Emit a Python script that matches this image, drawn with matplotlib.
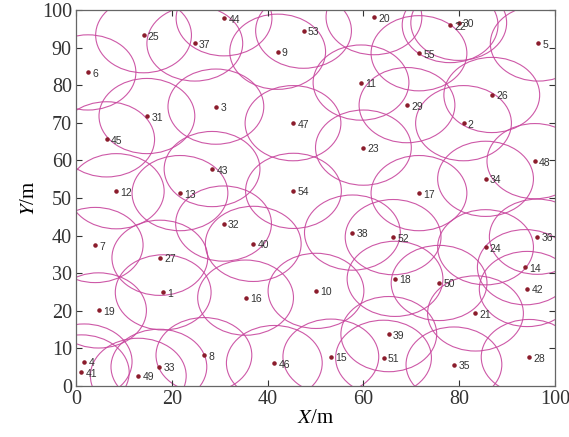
import numpy as np
import matplotlib
matplotlib.use("Agg")
import matplotlib.pyplot as plt
from matplotlib.patches import Circle

# node ids and positions (m)
ids = list(range(1, 56))
xs = [18.2, 80.9, 29.2, 1.7, 96.5, 2.5, 4.0, 26.7, 42.1, 50.1,
      59.5, 8.4, 21.7, 93.8, 53.2, 35.4, 71.6, 66.6, 4.7, 62.2,
      83.4, 78.1, 60.0, 85.5, 14.1, 86.8, 17.5, 94.6, 69.1, 79.9,
      14.8, 30.8, 17.3, 85.5, 78.9, 96.3, 24.8, 57.7, 65.3, 37.0,
      1.1, 94.2, 28.4, 30.9, 6.4, 41.4, 45.3, 95.8, 13.0, 75.8,
      64.2, 66.2, 47.5, 45.4, 71.6]
ys = [24.9, 69.9, 74.3, 6.5, 91.1, 83.4, 37.5, 8.2, 88.9, 25.3,
      80.7, 51.8, 51.3, 31.6, 7.8, 23.5, 51.3, 28.5, 20.1, 98.1,
      19.3, 96.0, 63.4, 36.9, 93.3, 77.4, 34.1, 7.7, 74.7, 96.6,
      71.8, 43.2, 5.1, 55.1, 5.7, 39.7, 91.1, 40.8, 13.8, 37.8,
      3.6, 25.8, 57.7, 97.8, 65.6, 6.1, 69.9, 59.8, 2.7, 27.4,
      7.5, 39.6, 94.5, 51.9, 88.5]
radius = 10

plt.rcParams['font.family'] = 'Liberation Serif'
plt.rcParams['mathtext.fontset'] = 'stix'

fig = plt.figure(figsize=(5.69, 4.37), dpi=100)
ax = fig.add_axes([0.1336, 0.1167, 0.8418, 0.8604])

for x, y in zip(xs, ys):
    c = Circle((x, y), radius, fill=False, edgecolor='#c8479e', lw=0.8, alpha=0.9)
    ax.add_patch(c)

ax.scatter(xs, ys, s=5, color='#8b1c2c', zorder=3)
for i, x, y in zip(ids, xs, ys):
    ax.text(x + 0.9, y - 0.4, str(i), fontsize=7.5, family='Liberation Sans',
            color='#333333', va='center', ha='left', zorder=4)

ax.set_xlim(0, 100)
ax.set_ylim(0, 100)
ax.set_xticks(np.arange(0, 101, 20))
ax.set_yticks(np.arange(0, 101, 10))
ax.tick_params(direction='in', top=True, right=True, length=4, width=0.8,
               labelsize=14.5, colors='#333333', pad=3)
for s in ax.spines.values():
    s.set_color('#666666')
    s.set_linewidth(0.9)
ax.set_xlabel('$X$/m', fontsize=15, labelpad=0)
ax.set_ylabel('$Y$/m', fontsize=15, labelpad=2)

plt.savefig('out.png', dpi=100)
